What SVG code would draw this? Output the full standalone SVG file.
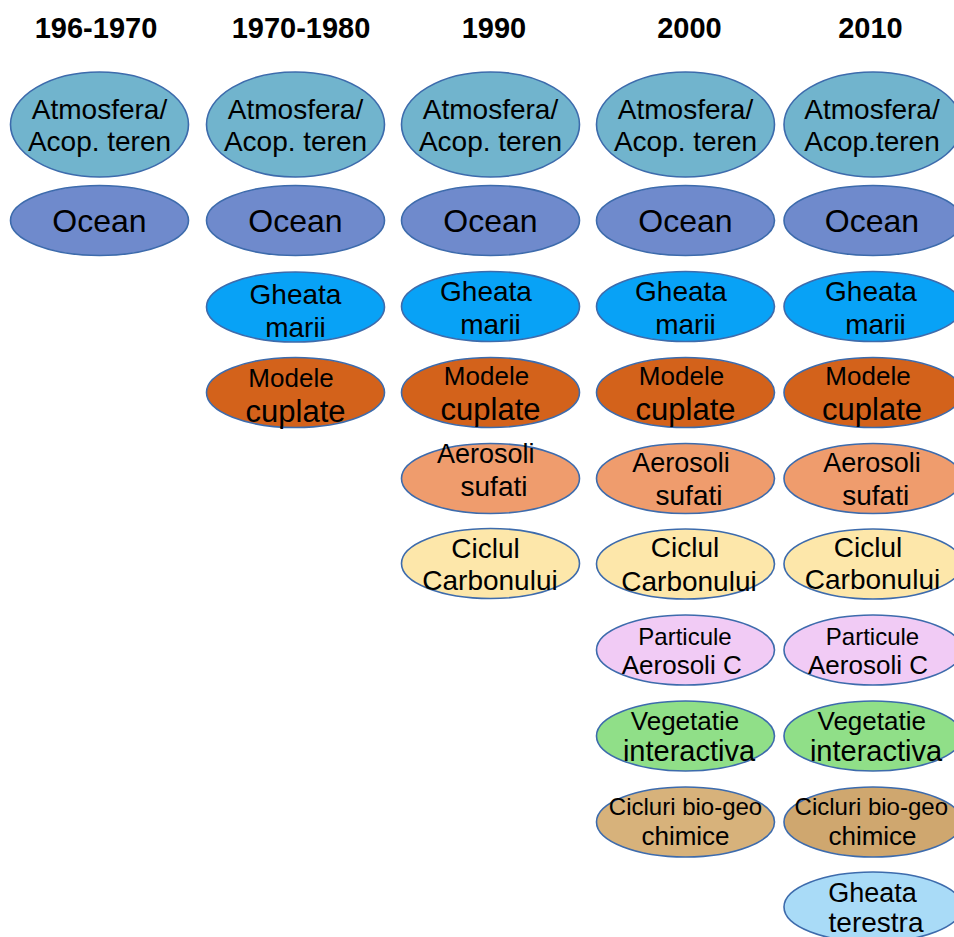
<svg xmlns="http://www.w3.org/2000/svg" width="954" height="937" viewBox="0 0 954 937">
<style>
text{font-family:"Liberation Sans",Arial,sans-serif;fill:#000;text-anchor:middle}
.h{font-weight:bold;font-size:29px}
ellipse{stroke:#3D6BAC;stroke-width:1.6}
.atm{fill:#71B4CD}.oce{fill:#6F8ACC}.gm{fill:#08A2F6}.mod{fill:#D3621B}
.aer{fill:#EF9C6D}.cic{fill:#FDE7AA}.par{fill:#F1CBF5}.veg{fill:#90DF88}
.bio{fill:#D7B27B}.bio2{fill:#CFA76F}.gt{fill:#A9DBF7}
.f28{font-size:28px}.f32{font-size:32px}.f26{font-size:26px}.f24{font-size:24px}.f31{font-size:31px}.f29{font-size:29px}.f27{font-size:27px}
</style>
<rect width="954" height="937" fill="#fff"/>
<g id="headers">
<text class="h" x="96" y="37.5">196-1970</text>
<text class="h" x="301" y="37.5">1970-1980</text>
<text class="h" x="494" y="37.5">1990</text>
<text class="h" x="689.5" y="37.5">2000</text>
<text class="h" x="870.5" y="37.5">2010</text>
</g>
<!-- Column 1 -->
<g id="c1-atmosfera"><ellipse class="atm" cx="99.5" cy="124.5" rx="89" ry="52.5"/><text class="f28" x="99.5" y="119">Atmosfera/</text><text class="f28" x="99.5" y="151">Acop. teren</text></g>
<g id="c1-ocean"><ellipse class="oce" cx="99.5" cy="220.5" rx="89" ry="35"/><text class="f32" x="99.5" y="232">Ocean</text></g>
<!-- Column 2 -->
<g id="c2-atmosfera"><ellipse class="atm" cx="295.5" cy="124.5" rx="89" ry="52.5"/><text class="f28" x="295.5" y="119">Atmosfera/</text><text class="f28" x="295.5" y="151">Acop. teren</text></g>
<g id="c2-ocean"><ellipse class="oce" cx="295.5" cy="220.5" rx="89" ry="35"/><text class="f32" x="295.5" y="232">Ocean</text></g>
<g id="c2-gheata-marii"><ellipse class="gm" cx="295.5" cy="307" rx="89" ry="35"/><text class="f28" x="295.5" y="304">Gheata</text><text class="f28" x="295.5" y="337">marii</text></g>
<g id="c2-modele"><ellipse class="mod" cx="295.5" cy="392.5" rx="89" ry="35"/><text class="f26" x="291" y="387">Modele</text><text class="f31" x="295.5" y="422">cuplate</text></g>
<!-- Column 3 -->
<g id="c3-atmosfera"><ellipse class="atm" cx="490.5" cy="124.5" rx="89" ry="52.5"/><text class="f28" x="490.5" y="119">Atmosfera/</text><text class="f28" x="490.5" y="151">Acop. teren</text></g>
<g id="c3-ocean"><ellipse class="oce" cx="490.5" cy="220.5" rx="89" ry="35"/><text class="f32" x="490.5" y="232">Ocean</text></g>
<g id="c3-gheata-marii"><ellipse class="gm" cx="490.5" cy="306.5" rx="89" ry="35"/><text class="f28" x="486" y="301">Gheata</text><text class="f28" x="490.5" y="334">marii</text></g>
<g id="c3-modele"><ellipse class="mod" cx="490.5" cy="392.5" rx="89" ry="35"/><text class="f26" x="486.5" y="385">Modele</text><text class="f31" x="490.5" y="420">cuplate</text></g>
<g id="c3-aerosoli"><ellipse class="aer" cx="490.5" cy="478.5" rx="89" ry="35"/><text class="f27" x="485.7" y="463">Aerosoli</text><text class="f28" x="494" y="496">sufati</text></g>
<g id="c3-ciclul"><ellipse class="cic" cx="490.5" cy="563.5" rx="89" ry="35"/><text class="f28" x="485.5" y="558">Ciclul</text><text class="f28" x="490" y="590">Carbonului</text></g>
<!-- Column 4 -->
<g id="c4-atmosfera"><ellipse class="atm" cx="685.5" cy="124.5" rx="89" ry="52.5"/><text class="f28" x="685.5" y="119">Atmosfera/</text><text class="f28" x="685.5" y="151">Acop. teren</text></g>
<g id="c4-ocean"><ellipse class="oce" cx="685.5" cy="220.5" rx="89" ry="35"/><text class="f32" x="685.5" y="232">Ocean</text></g>
<g id="c4-gheata-marii"><ellipse class="gm" cx="685.5" cy="306.5" rx="89" ry="35"/><text class="f28" x="681" y="301">Gheata</text><text class="f28" x="685.5" y="334">marii</text></g>
<g id="c4-modele"><ellipse class="mod" cx="685.5" cy="392.5" rx="89" ry="35"/><text class="f26" x="681.5" y="384.5">Modele</text><text class="f31" x="685.5" y="420">cuplate</text></g>
<g id="c4-aerosoli"><ellipse class="aer" cx="685.5" cy="478.5" rx="89" ry="35"/><text class="f27" x="681" y="472">Aerosoli</text><text class="f28" x="689" y="505">sufati</text></g>
<g id="c4-ciclul"><ellipse class="cic" cx="685.5" cy="564" rx="89" ry="35"/><text class="f28" x="685" y="557">Ciclul</text><text class="f28" x="689" y="591">Carbonului</text></g>
<g id="c4-particule"><ellipse class="par" cx="685.5" cy="650" rx="89" ry="35"/><text class="f24" x="685" y="644.5">Particule</text><text class="f26" x="681.7" y="673.5">Aerosoli C</text></g>
<g id="c4-vegetatie"><ellipse class="veg" cx="685.5" cy="736" rx="89" ry="35"/><text class="f26" x="685" y="730">Vegetatie</text><text class="f29" x="689" y="761">interactiva</text></g>
<g id="c4-cicluri"><ellipse class="bio" cx="685.5" cy="822" rx="89" ry="35"/><text class="f24" x="685.5" y="815">Cicluri bio-geo</text><text class="f26" x="685.5" y="845">chimice</text></g>
<!-- Column 5 -->
<g id="c5-atmosfera"><ellipse class="atm" cx="873" cy="124.5" rx="89" ry="52.5"/><text class="f28" x="872" y="119">Atmosfera/</text><text class="f28" x="872" y="151">Acop.teren</text></g>
<g id="c5-ocean"><ellipse class="oce" cx="873" cy="220.5" rx="89" ry="35"/><text class="f32" x="872" y="232">Ocean</text></g>
<g id="c5-gheata-marii"><ellipse class="gm" cx="873" cy="306.5" rx="89" ry="35"/><text class="f28" x="871" y="301">Gheata</text><text class="f28" x="875.5" y="334">marii</text></g>
<g id="c5-modele"><ellipse class="mod" cx="873" cy="392.5" rx="89" ry="35"/><text class="f26" x="868" y="384.5">Modele</text><text class="f31" x="872" y="420">cuplate</text></g>
<g id="c5-aerosoli"><ellipse class="aer" cx="873" cy="478.5" rx="89" ry="35"/><text class="f27" x="872" y="472">Aerosoli</text><text class="f28" x="875.7" y="505">sufati</text></g>
<g id="c5-ciclul"><ellipse class="cic" cx="873" cy="564" rx="89" ry="35"/><text class="f28" x="868" y="557">Ciclul</text><text class="f28" x="872.5" y="589">Carbonului</text></g>
<g id="c5-particule"><ellipse class="par" cx="873" cy="650" rx="89" ry="35"/><text class="f24" x="872.5" y="645">Particule</text><text class="f26" x="868" y="673.5">Aerosoli C</text></g>
<g id="c5-vegetatie"><ellipse class="veg" cx="873" cy="736" rx="89" ry="35"/><text class="f26" x="871.7" y="730">Vegetatie</text><text class="f29" x="876" y="761">interactiva</text></g>
<g id="c5-cicluri"><ellipse class="bio2" cx="873" cy="822" rx="89" ry="35"/><text class="f24" x="871.3" y="815">Cicluri bio-geo</text><text class="f26" x="872.5" y="845">chimice</text></g>
<g id="c5-gheata-terestra"><ellipse class="gt" cx="873" cy="907" rx="89" ry="35"/><text class="f27" x="872.5" y="901.5">Gheata</text><text class="f28" x="876" y="932">terestra</text></g>
</svg>
